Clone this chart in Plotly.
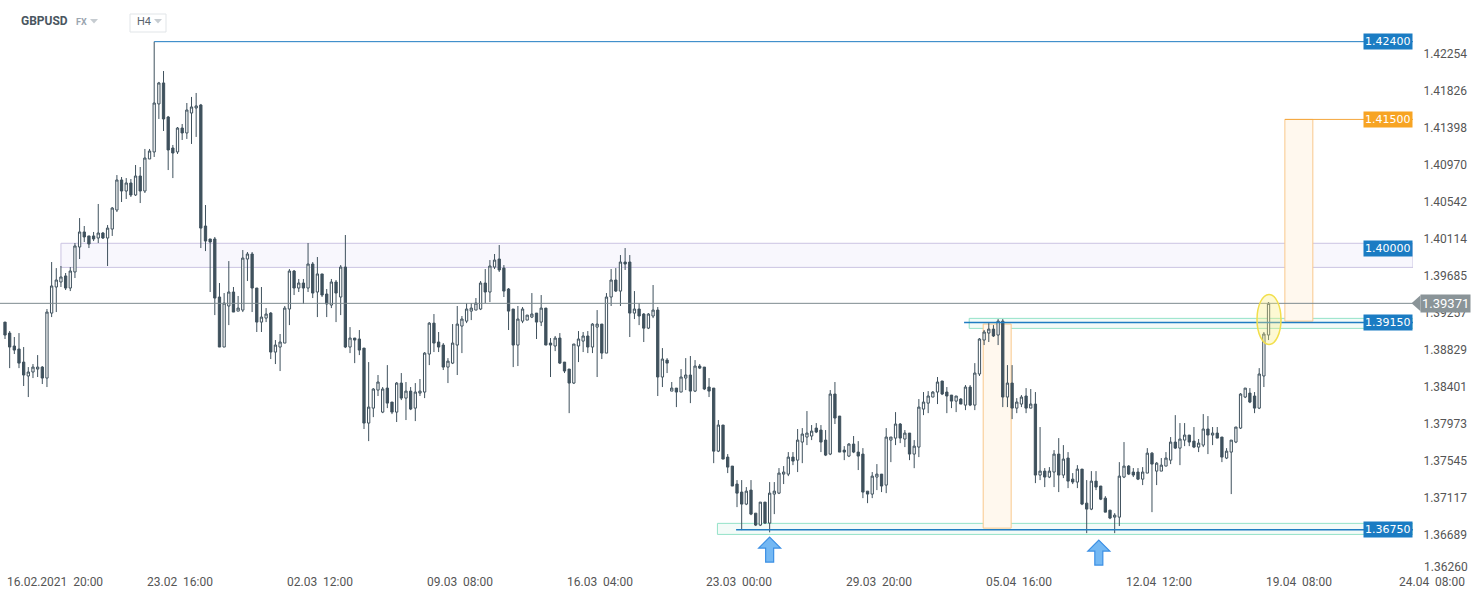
import plotly.graph_objects as go

# ---------------- data ----------------
SYMBOL = "GBPUSD"
MARKET = "FX"
INTERVAL = "H4"

OPEN = [1.39154, 1.39027, 1.38877, 1.38842, 1.38691, 1.38530, 1.38576, 1.38610, 1.38633, 1.38506,
        1.39258, 1.39560, 1.39618, 1.39688, 1.39548, 1.39734, 1.40023, 1.40197, 1.40151, 1.40151,
        1.40127, 1.40185, 1.40127, 1.40231, 1.40451, 1.40799, 1.40671, 1.40764, 1.40625, 1.40845,
        1.40671, 1.41042, 1.41123, 1.41679, 1.41922, 1.41528, 1.41169, 1.41123, 1.41400, 1.41343,
        1.41574, 1.41632, 1.41667, 1.40266, 1.40116, 1.40116, 1.39444, 1.38865, 1.39340, 1.39502,
        1.39281, 1.39293, 1.39884, 1.39942, 1.39548, 1.39154, 1.39200, 1.39258, 1.38807, 1.38865,
        1.38911, 1.39305, 1.39745, 1.39548, 1.39606, 1.39548, 1.39826, 1.39502, 1.39711, 1.39479,
        1.39351, 1.39618, 1.39444, 1.39791, 1.38865, 1.38969, 1.38958, 1.38853, 1.37985, 1.38158,
        1.38367, 1.38112, 1.38390, 1.38228, 1.38112, 1.38448, 1.38274, 1.38355, 1.38158, 1.38332,
        1.38344, 1.38784, 1.39142, 1.38923, 1.38888, 1.38633, 1.38679, 1.38888, 1.39108, 1.39165,
        1.39281, 1.39293, 1.39305, 1.39606, 1.39502, 1.39791, 1.39884, 1.39779, 1.39537, 1.39305,
        1.38888, 1.39165, 1.39177, 1.39212, 1.39258, 1.39154, 1.39316, 1.38911, 1.38877, 1.38969,
        1.38691, 1.38610, 1.38448, 1.38877, 1.38934, 1.38993, 1.38865, 1.39096, 1.39131, 1.38795,
        1.39444, 1.39641, 1.39513, 1.39849, 1.39849, 1.39258, 1.39305, 1.39247, 1.39084, 1.39224,
        1.39293, 1.38518, 1.38714, 1.38355, 1.38390, 1.38344, 1.38506, 1.38541, 1.38355, 1.38645,
        1.38633, 1.38402, 1.38390, 1.37660, 1.37962, 1.37591, 1.37487, 1.37279, 1.37186, 1.37047,
        1.37209, 1.36942, 1.36804, 1.37070, 1.36827, 1.37163, 1.37174, 1.37394, 1.37394, 1.37591,
        1.37556, 1.37765, 1.37823, 1.37835, 1.37927, 1.37904, 1.37788, 1.37626, 1.38321, 1.38066,
        1.37672, 1.37603, 1.37742, 1.37649, 1.37626, 1.37197, 1.37163, 1.37360, 1.37394, 1.37267,
        1.37788, 1.37811, 1.37974, 1.37800, 1.37869, 1.37626, 1.37707, 1.38147, 1.38216, 1.38286,
        1.38344, 1.38472, 1.38344, 1.38309, 1.38239, 1.38263, 1.38193, 1.38402, 1.38193, 1.38553,
        1.38946, 1.39027, 1.39073, 1.39004, 1.39165, 1.38286, 1.38448, 1.38158, 1.38205, 1.38298,
        1.38158, 1.38205, 1.37383, 1.37429, 1.37360, 1.37418, 1.37626, 1.37383, 1.37580, 1.37336,
        1.37302, 1.37452, 1.37058, 1.36989, 1.37313, 1.37256, 1.37116, 1.36977, 1.36896, 1.36896,
        1.37360, 1.37487, 1.37418, 1.37418, 1.37336, 1.37406, 1.37637, 1.37429, 1.37429, 1.37487,
        1.37556, 1.37765, 1.37695, 1.37788, 1.37846, 1.37776, 1.37707, 1.37730, 1.37916, 1.37846,
        1.37869, 1.37823, 1.37580, 1.37649, 1.37765, 1.37927, 1.38286, 1.38332, 1.38298, 1.38158,
        1.38530, 1.39004]
HIGH = [1.39154, 1.39050, 1.38981, 1.39027, 1.38865, 1.38633, 1.38668, 1.38772, 1.38645, 1.39305,
        1.39849, 1.39779, 1.39803, 1.39722, 1.39791, 1.40069, 1.40358, 1.40266, 1.40151, 1.40197,
        1.40521, 1.40197, 1.40277, 1.40486, 1.40856, 1.40833, 1.40821, 1.40810, 1.40972, 1.40949,
        1.41158, 1.41158, 1.42400, 1.41934, 1.42060, 1.41540, 1.41204, 1.41412, 1.41447, 1.41690,
        1.41760, 1.41806, 1.41679, 1.40509, 1.40116, 1.40139, 1.39606, 1.39490, 1.39860, 1.39560,
        1.39456, 1.39988, 1.39965, 1.39965, 1.39548, 1.39560, 1.39316, 1.39270, 1.38946, 1.39016,
        1.39340, 1.39768, 1.39757, 1.39653, 1.39653, 1.40069, 1.39849, 1.39907, 1.39711, 1.39537,
        1.39653, 1.39641, 1.39814, 1.40162, 1.39096, 1.38969, 1.39062, 1.38853, 1.38691, 1.38390,
        1.38541, 1.38402, 1.38656, 1.38228, 1.38460, 1.38564, 1.38460, 1.38402, 1.38448, 1.38495,
        1.38807, 1.39154, 1.39247, 1.39039, 1.38911, 1.38737, 1.39131, 1.39340, 1.39224, 1.39374,
        1.39374, 1.39432, 1.39629, 1.39768, 1.39872, 1.39942, 1.40046, 1.39814, 1.39548, 1.39305,
        1.39340, 1.39328, 1.39235, 1.39490, 1.39258, 1.39467, 1.39316, 1.38969, 1.38993, 1.39027,
        1.38691, 1.38610, 1.38900, 1.39050, 1.39039, 1.39050, 1.39142, 1.39293, 1.39131, 1.39490,
        1.39768, 1.39779, 1.39930, 1.40011, 1.39930, 1.39513, 1.39374, 1.39258, 1.39258, 1.39583,
        1.39328, 1.38853, 1.38737, 1.38460, 1.38390, 1.38610, 1.38737, 1.38761, 1.38714, 1.38668,
        1.38633, 1.38506, 1.38390, 1.38020, 1.37962, 1.37626, 1.37487, 1.37325, 1.37325, 1.37244,
        1.37325, 1.36942, 1.37070, 1.37070, 1.37302, 1.37302, 1.37464, 1.37487, 1.37649, 1.37649,
        1.37916, 1.37927, 1.38124, 1.37962, 1.37985, 1.37962, 1.37904, 1.38367, 1.38460, 1.38066,
        1.37718, 1.37753, 1.37835, 1.37776, 1.37695, 1.37197, 1.37418, 1.37510, 1.37394, 1.37927,
        1.37823, 1.38112, 1.37985, 1.37904, 1.37869, 1.37788, 1.38263, 1.38344, 1.38355, 1.38355,
        1.38518, 1.38472, 1.38402, 1.38309, 1.38298, 1.38274, 1.38425, 1.38425, 1.38679, 1.38969,
        1.39062, 1.39142, 1.39119, 1.39189, 1.39189, 1.38656, 1.38656, 1.38274, 1.38309, 1.38390,
        1.38379, 1.38344, 1.37939, 1.37464, 1.37475, 1.37672, 1.37811, 1.37730, 1.37649, 1.37406,
        1.37498, 1.37452, 1.37325, 1.37429, 1.37429, 1.37256, 1.37139, 1.36977, 1.36942, 1.37533,
        1.37765, 1.37498, 1.37464, 1.37464, 1.37475, 1.37695, 1.37649, 1.37533, 1.37580, 1.37649,
        1.37823, 1.38077, 1.37985, 1.37985, 1.37846, 1.37939, 1.37800, 1.38089, 1.38066, 1.37939,
        1.37939, 1.37823, 1.37695, 1.37788, 1.37939, 1.38332, 1.38390, 1.38390, 1.38344, 1.38621,
        1.39039, 1.39386]
LOW = [1.38958, 1.38621, 1.38784, 1.38621, 1.38414, 1.38286, 1.38506, 1.38518, 1.38437, 1.38402,
       1.39212, 1.39270, 1.39560, 1.39525, 1.39513, 1.39664, 1.39884, 1.40081, 1.40011, 1.40092,
       1.40069, 1.40116, 1.39803, 1.40151, 1.40428, 1.40544, 1.40579, 1.40602, 1.40614, 1.40532,
       1.40648, 1.41042, 1.41065, 1.41505, 1.41366, 1.40914, 1.40821, 1.41100, 1.41262, 1.41274,
       1.41216, 1.41297, 1.40011, 1.39976, 1.39502, 1.39235, 1.38865, 1.38865, 1.39119, 1.39270,
       1.39281, 1.39270, 1.39629, 1.39270, 1.39039, 1.39039, 1.39154, 1.38726, 1.38668, 1.38587,
       1.38911, 1.39119, 1.39467, 1.39502, 1.39363, 1.39502, 1.39432, 1.39212, 1.39444, 1.39212,
       1.39316, 1.39154, 1.39235, 1.38853, 1.38795, 1.38679, 1.38772, 1.37916, 1.37776, 1.38054,
       1.38298, 1.38100, 1.38158, 1.38089, 1.37997, 1.38251, 1.38020, 1.38135, 1.38008, 1.38298,
       1.38274, 1.38656, 1.38807, 1.38807, 1.38599, 1.38448, 1.38668, 1.38541, 1.38795, 1.39142,
       1.39177, 1.39293, 1.39293, 1.39374, 1.39386, 1.39768, 1.39734, 1.39444, 1.39062, 1.38633,
       1.38645, 1.39142, 1.39177, 1.39200, 1.38958, 1.39108, 1.38888, 1.38518, 1.38818, 1.38668,
       1.38564, 1.38100, 1.38437, 1.38691, 1.38807, 1.38795, 1.38795, 1.38518, 1.38726, 1.38795,
       1.39340, 1.39502, 1.39340, 1.39757, 1.38981, 1.39189, 1.39119, 1.38923, 1.39073, 1.39200,
       1.38298, 1.38402, 1.38564, 1.38355, 1.38170, 1.38344, 1.38367, 1.38216, 1.38344, 1.38610,
       1.38367, 1.38286, 1.37521, 1.37649, 1.37568, 1.37406, 1.37256, 1.37012, 1.36746, 1.37035,
       1.36919, 1.36793, 1.36793, 1.36816, 1.36720, 1.36931, 1.37163, 1.37279, 1.37371, 1.37498,
       1.37418, 1.37521, 1.37730, 1.37788, 1.37869, 1.37649, 1.37603, 1.37614, 1.37974, 1.37649,
       1.37556, 1.37591, 1.37637, 1.37441, 1.37116, 1.37058, 1.37116, 1.37209, 1.37186, 1.37174,
       1.37533, 1.37730, 1.37753, 1.37707, 1.37556, 1.37463, 1.37591, 1.38077, 1.38100, 1.38286,
       1.38205, 1.38309, 1.38100, 1.38158, 1.38112, 1.38205, 1.38135, 1.38181, 1.38135, 1.38530,
       1.38888, 1.38923, 1.38981, 1.38888, 1.38170, 1.38170, 1.38031, 1.38100, 1.38170, 1.38100,
       1.38158, 1.37290, 1.37325, 1.37244, 1.37348, 1.37244, 1.37186, 1.37348, 1.37232, 1.37279,
       1.37232, 1.37035, 1.36711, 1.36977, 1.37209, 1.37093, 1.36954, 1.36873, 1.36711, 1.36793,
       1.37348, 1.37383, 1.37360, 1.37325, 1.37267, 1.37406, 1.36954, 1.37267, 1.37429, 1.37487,
       1.37510, 1.37684, 1.37498, 1.37718, 1.37718, 1.37695, 1.37649, 1.37707, 1.37626, 1.37730,
       1.37811, 1.37533, 1.37568, 1.37163, 1.37753, 1.37916, 1.38274, 1.38216, 1.38100, 1.38147,
       1.38402, 1.38946]
CLOSE = [1.39004, 1.38865, 1.38830, 1.38679, 1.38541, 1.38576, 1.38633, 1.38633, 1.38506, 1.39270,
         1.39572, 1.39641, 1.39676, 1.39548, 1.39745, 1.40035, 1.40197, 1.40139, 1.40058, 1.40116,
         1.40185, 1.40127, 1.40242, 1.40474, 1.40799, 1.40671, 1.40764, 1.40625, 1.40845, 1.40671,
         1.41053, 1.41134, 1.41690, 1.41922, 1.41505, 1.41146, 1.41111, 1.41400, 1.41343, 1.41609,
         1.41644, 1.41656, 1.40242, 1.40092, 1.40081, 1.39432, 1.38865, 1.39374, 1.39502, 1.39270,
         1.39316, 1.39895, 1.39942, 1.39548, 1.39154, 1.39212, 1.39247, 1.38807, 1.38888, 1.38923,
         1.39316, 1.39745, 1.39548, 1.39606, 1.39548, 1.39826, 1.39490, 1.39711, 1.39467, 1.39363,
         1.39618, 1.39490, 1.39791, 1.38865, 1.38969, 1.38946, 1.38830, 1.37985, 1.38170, 1.38379,
         1.38460, 1.38379, 1.38216, 1.38112, 1.38448, 1.38274, 1.38355, 1.38147, 1.38344, 1.38355,
         1.38795, 1.39142, 1.38911, 1.38865, 1.38633, 1.38702, 1.38911, 1.39131, 1.39189, 1.39305,
         1.39316, 1.39374, 1.39606, 1.39502, 1.39803, 1.39872, 1.39757, 1.39513, 1.39281, 1.38888,
         1.39189, 1.39305, 1.39235, 1.39247, 1.39154, 1.39316, 1.38888, 1.38888, 1.38969, 1.38679,
         1.38587, 1.38448, 1.38900, 1.38958, 1.38993, 1.38865, 1.39131, 1.39131, 1.38795, 1.39444,
         1.39641, 1.39513, 1.39849, 1.39826, 1.39258, 1.39305, 1.39224, 1.39084, 1.39247, 1.39293,
         1.38518, 1.38726, 1.38679, 1.38390, 1.38344, 1.38518, 1.38541, 1.38355, 1.38645, 1.38621,
         1.38379, 1.38355, 1.37660, 1.37962, 1.37568, 1.37475, 1.37256, 1.37174, 1.37047, 1.37197,
         1.36931, 1.36804, 1.37070, 1.36827, 1.37174, 1.37197, 1.37406, 1.37418, 1.37591, 1.37545,
         1.37788, 1.37858, 1.37869, 1.37892, 1.37881, 1.37765, 1.37614, 1.38321, 1.38043, 1.37649,
         1.37649, 1.37742, 1.37649, 1.37603, 1.37186, 1.37163, 1.37371, 1.37394, 1.37256, 1.37823,
         1.37823, 1.37974, 1.37811, 1.37869, 1.37626, 1.37718, 1.38170, 1.38228, 1.38298, 1.38344,
         1.38460, 1.38321, 1.38298, 1.38239, 1.38298, 1.38205, 1.38402, 1.38193, 1.38564, 1.38958,
         1.39039, 1.39073, 1.38993, 1.39165, 1.38286, 1.38448, 1.38158, 1.38228, 1.38286, 1.38158,
         1.38205, 1.37383, 1.37429, 1.37360, 1.37429, 1.37626, 1.37383, 1.37568, 1.37313, 1.37302,
         1.37452, 1.37047, 1.36989, 1.37313, 1.37244, 1.37104, 1.36954, 1.36885, 1.36919, 1.37371,
         1.37487, 1.37394, 1.37383, 1.37336, 1.37418, 1.37637, 1.37510, 1.37521, 1.37498, 1.37580,
         1.37765, 1.37695, 1.37800, 1.37846, 1.37765, 1.37707, 1.37753, 1.37916, 1.37846, 1.37869,
         1.37811, 1.37591, 1.37660, 1.37788, 1.37939, 1.38321, 1.38390, 1.38228, 1.38158, 1.38553,
         1.39016, 1.39371]

BARS = list(range(len(CLOSE)))

X_LABEL_BARS = [0, 30, 60, 90, 120, 150, 180, 210, 240, 270]
X_LABELS = ["16.02.2021  20:00", "23.02  16:00", "02.03  12:00", "09.03  08:00", "16.03  04:00",
            "23.03  00:00", "29.03  20:00", "05.04  16:00", "12.04  12:00", "19.04  08:00"]
X_END_LABEL = "24.04  08:00"

Y_TICKS = [1.36689, 1.37117, 1.37545, 1.37973, 1.38401, 1.38829, 1.39257, 1.39685,
           1.40114, 1.40542, 1.40970, 1.41398, 1.41826, 1.42254]
Y_BOTTOM_TICK = 1.36260

LAST_PRICE = 1.39371
LEVEL_HIGH = 1.42400          # line from the swing high
LEVEL_TARGET = 1.41500        # orange target
ZONE_1400 = (1.39787, 1.40066)
LEVEL_1400 = 1.40000
ZONE_13915 = (1.39081, 1.39197)
LEVEL_13915 = 1.39150
ZONE_13675 = (1.36696, 1.36824)
LEVEL_13675 = 1.36750
HIGH_BAR = 32

BOX_RIGHT = dict(bars=(274.5, 280.5), prices=(1.39165, 1.41500))
BOX_LEFT = dict(bars=(209.8, 215.8), prices=(1.36769, 1.39131))
ARROWS = [(164, 1.36665), (234.6, 1.36630)]
ELLIPSE_AT = (271.1, 1.39185)

# ---------------- geometry ----------------
W, H = 1482, 598
PL, PR, PT, PB = 0, 1413, 30, 572          # plot area in pixels
BAR_PX = 4.6625
X_MIN = -5 / BAR_PX
X_MAX = X_MIN + (PR - PL) / BAR_PX
Y_MAX = 1.42535
Y_MIN = 1.36261


def pxx(px):
    return (px - PL) / (PR - PL)


def pxy(py):
    return (PB - py) / (PB - PT)


def price_paper(p):
    return (p - Y_MIN) / (Y_MAX - Y_MIN)


CANDLE = "#3f515d"
BLUE = "#1b7cc3"
LINE_BLUE = "#1f7cc2"
ORANGE = "#f7a423"
GREY = "#8a9498"
MINT = "#94e2c8"

fig = go.Figure()
fig.add_trace(go.Candlestick(
    x=BARS, open=OPEN, high=HIGH, low=LOW, close=CLOSE,
    increasing=dict(line=dict(color=CANDLE, width=1), fillcolor="white"),
    decreasing=dict(line=dict(color=CANDLE, width=1), fillcolor=CANDLE),
    whiskerwidth=0, hoverinfo="skip", showlegend=False,
))

shapes = []
# zones (below candles)
shapes.append(dict(type="rect", xref="x", yref="y", x0=12.0, x1=X_MAX, y0=ZONE_1400[0], y1=ZONE_1400[1],
                   fillcolor="#f8f7fd", line=dict(color="#cbc4e2", width=1), layer="below"))
shapes.append(dict(type="rect", xref="x", yref="y", x0=206.8, x1=X_MAX, y0=ZONE_13915[0], y1=ZONE_13915[1],
                   fillcolor="#f3fbf8", line=dict(color=MINT, width=1), layer="below"))
shapes.append(dict(type="rect", xref="x", yref="y", x0=152.8, x1=X_MAX, y0=ZONE_13675[0], y1=ZONE_13675[1],
                   fillcolor="#f3fbf8", line=dict(color=MINT, width=1), layer="below"))
for b in (BOX_LEFT, BOX_RIGHT):
    shapes.append(dict(type="rect", xref="x", yref="y", x0=b["bars"][0], x1=b["bars"][1],
                       y0=b["prices"][0], y1=b["prices"][1],
                       fillcolor="#fff8ee", line=dict(color="#f9c88c", width=1), layer="below"))
# lines
shapes.append(dict(type="line", xref="x", yref="y", x0=X_MIN, x1=X_MAX, y0=LAST_PRICE, y1=LAST_PRICE,
                   line=dict(color="#7e8b90", width=1)))
shapes.append(dict(type="line", xref="x", yref="y", x0=HIGH_BAR, x1=X_MAX, y0=LEVEL_HIGH, y1=LEVEL_HIGH,
                   line=dict(color=LINE_BLUE, width=1)))
shapes.append(dict(type="line", xref="x", yref="y", x0=274.5, x1=X_MAX, y0=LEVEL_TARGET, y1=LEVEL_TARGET,
                   line=dict(color="#f5a63c", width=1)))
shapes.append(dict(type="line", xref="x", yref="y", x0=205.7, x1=X_MAX, y0=LEVEL_13915, y1=LEVEL_13915,
                   line=dict(color=LINE_BLUE, width=1.5)))
shapes.append(dict(type="line", xref="x", yref="y", x0=156.8, x1=X_MAX, y0=LEVEL_13675, y1=LEVEL_13675,
                   line=dict(color=LINE_BLUE, width=1.5)))
# ellipse around last candle
shapes.append(dict(type="circle", xref="x", yref="y", xsizemode="pixel", ysizemode="pixel",
                   xanchor=ELLIPSE_AT[0], yanchor=ELLIPSE_AT[1], x0=-12, x1=12, y0=-25, y1=25,
                   fillcolor="rgba(250,238,130,0.35)", line=dict(color="#f2df4c", width=1.5)))
# arrows
arrow_path = "M0,0 L11,-11 L4,-11 L4,-25 L-4,-25 L-4,-11 L-11,-11 Z"
for bx, by in ARROWS:
    shapes.append(dict(type="path", xref="x", yref="y", xsizemode="pixel", ysizemode="pixel",
                       xanchor=bx, yanchor=by, path=arrow_path,
                       fillcolor="#74b8f3", line=dict(color="#3b8fe4", width=1.2)))
# last price marker triangle
shapes.append(dict(type="path", xref="paper", yref="paper", xsizemode="pixel", ysizemode="pixel",
                   xanchor=pxx(1420), yanchor=price_paper(LAST_PRICE),
                   path="M-8.5,0 L0.5,8 L0.5,-8 Z", fillcolor=GREY, line=dict(width=0)))
# header widgets
shapes.append(dict(type="rect", xref="paper", yref="paper", x0=pxx(130), x1=pxx(166), y0=pxy(32), y1=pxy(14),
                   fillcolor="white", line=dict(color="#e1e5e8", width=1)))
for cx in (94, 158):
    shapes.append(dict(type="path", xref="paper", yref="paper", xsizemode="pixel", ysizemode="pixel",
                       xanchor=pxx(cx), yanchor=pxy(21), path="M-4,2 L4,2 L0,-2.5 Z",
                       fillcolor="#c6ccd1", line=dict(width=0)))

ann = []
for b, t in zip(X_LABEL_BARS, X_LABELS):
    ann.append(dict(x=b, xref="x", y=0, yref="paper", text=t, showarrow=False, xanchor="left",
                    yanchor="top", yshift=-1, font=dict(family="Roboto", size=12, color="#555")))
ann.append(dict(x=pxx(1467), xref="paper", y=0, yref="paper", text=X_END_LABEL, showarrow=False,
                xanchor="right", yanchor="top", yshift=-1, font=dict(family="Roboto", size=12, color="#555")))
ann.append(dict(x=pxx(1422), xref="paper", y=pxy(567), yref="paper", text=f"{Y_BOTTOM_TICK:.5f}",
                showarrow=False, xanchor="left", yanchor="middle",
                font=dict(family="Roboto", size=12, color="#555")))
for lvl, col in ((LEVEL_HIGH, BLUE), (LEVEL_TARGET, ORANGE), (LEVEL_1400, BLUE),
                 (LEVEL_13915, BLUE), (LEVEL_13675, BLUE)):
    ann.append(dict(x=1, xref="paper", y=lvl, yref="y", text=f"{lvl:.5f}", showarrow=False,
                    xanchor="right", yanchor="middle", bgcolor=col, borderpad=1,
                    font=dict(family="DejaVu Sans", size=11, color="white")))
ann.append(dict(x=pxx(1420), xref="paper", y=price_paper(LAST_PRICE), yref="paper", text=f"{LAST_PRICE:.5f}",
                showarrow=False, xanchor="left", yanchor="middle", bgcolor=GREY, borderpad=1,
                font=dict(family="Roboto", size=13, color="white")))
ann.append(dict(x=pxx(19), xref="paper", y=pxy(21), yref="paper", text=f"<b>{SYMBOL}</b>", showarrow=False,
                xanchor="left", yanchor="middle", font=dict(family="Roboto", size=12, color="#4a5660")))
ann.append(dict(x=pxx(74), xref="paper", y=pxy(22), yref="paper", text=f"<b>{MARKET}</b>", showarrow=False,
                xanchor="left", yanchor="middle", font=dict(family="Roboto", size=9, color="#9aa5af")))
ann.append(dict(x=pxx(135), xref="paper", y=pxy(22), yref="paper", text=INTERVAL, showarrow=False,
                xanchor="left", yanchor="middle", font=dict(family="Roboto", size=11, color="#58636d")))

fig.update_layout(
    width=W, height=H, autosize=False,
    margin=dict(l=PL, r=W - PR, t=PT, b=H - PB),
    paper_bgcolor="white", plot_bgcolor="white",
    shapes=shapes, annotations=ann, showlegend=False,
    xaxis=dict(range=[X_MIN, X_MAX], showgrid=False, zeroline=False, showticklabels=False,
               showline=False, rangeslider=dict(visible=False), fixedrange=True),
    yaxis=dict(range=[Y_MIN, Y_MAX], side="right", showgrid=False, zeroline=False, showline=False,
               tickvals=Y_TICKS, ticktext=[f"{v:.5f}" for v in Y_TICKS],
               ticks="outside", ticklen=7, tickcolor="rgba(0,0,0,0)",
               tickfont=dict(family="Roboto", size=12, color="#555"), fixedrange=True),
    font=dict(family="Roboto"),
)

fig.write_html("out.html", config={"displayModeBar": False},
               post_script="document.body.style.margin='0px';document.body.style.overflow='hidden';")
